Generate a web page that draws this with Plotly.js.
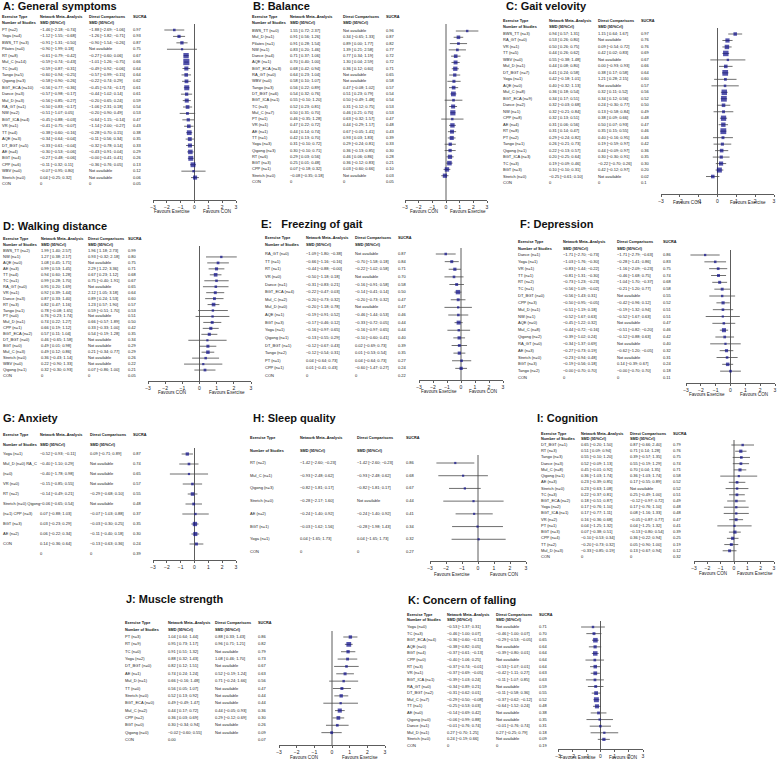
<!DOCTYPE html>
<html><head><meta charset="utf-8">
<script src="https://cdn.plot.ly/plotly-3.0.1.min.js"></script>
<style>html,body{margin:0;padding:0;background:#fff;}#chart{width:777px;height:759px;}</style>
</head><body><div id="chart"></div>
<script>
// ---------- DATA ----------
const A_type=['PT (n=2)','Yoga (n=4)','BWS_TT (n=3)','Pilates (n=0)','RT (n=8)','Mul_C (n=14)','TC (n=6)','Tango (n=5)','Qigong (n=3)','BGT_ECA (n=10)','Dance (n=3)','Mul_D (n=3)','RA_GT (n=1)','NW (n=2)','BGT_ICA (n=4)','VR (n=1)','TT (n=4)','AQE (n=3)','DT_BGT (n=5)','AE (n=4)','BGT (n=4)','CPP (n=6)','WBV (n=0)','Stretch (n=0)','CON'];
const A_est=[-1.46,-1.12,-0.91,-0.90,-0.61,-0.59,-0.59,-0.60,-0.58,-0.56,-0.57,-0.56,-0.50,-0.51,-0.45,-0.41,-0.38,-0.34,-0.33,-0.30,-0.27,-0.11,-0.07,0.04,0];
const A_lo=[-2.18,-1.55,-1.31,-1.99,-0.79,-0.74,-0.87,-0.94,-0.90,-0.77,-0.98,-0.85,-0.83,-1.07,-0.88,-0.75,-0.60,-0.64,-0.61,-0.53,-0.48,-0.32,-0.95,-0.25,null];
const A_hi=[-0.74,-0.68,-0.50,0.18,-0.42,-0.43,-0.31,-0.25,-0.26,-0.36,-0.17,-0.27,-0.17,0.05,-0.03,-0.07,-0.16,-0.04,-0.04,-0.06,-0.06,0.11,0.80,0.32,null];
const A_dEst=[-1.88,-1.26,-0.90,null,-0.27,-1.01,-0.49,-0.57,-0.22,-0.45,-0.44,-0.20,-1.06,-0.20,-0.64,-1.14,-0.28,-0.11,-0.32,-0.43,-0,-0.36,null,null,0];
const A_dLo=[-2.69,-1.82,-1.54,null,-0.60,-1.26,-0.92,-0.99,-0.74,-0.74,-1.02,-0.65,-2.31,-0.90,-1.15,-2.00,-0.70,-0.56,-0.78,-0.91,-0.41,-0.76,null,null,null];
const A_dHi=[-1.06,-0.71,-0.26,null,0.06,-0.75,-0.06,-0.15,0.29,-0.17,0.14,0.24,0.18,0.49,-0.14,-0.27,0.15,0.34,0.14,0.04,0.41,0.05,null,null,null];
const A_sucra=['0.97','0.93','0.87','0.75','0.67','0.66','0.64','0.64','0.62','0.61','0.61','0.59','0.54','0.53','0.47','0.43','0.38','0.35','0.33','0.29','0.26','0.13','0.12','0.06','0.05'];

const B_type=['BWS_TT (n=0)','Mul_D (n=1)','Pilates (n=1)','NW (n=1)','Dance (n=4)','AQE (n=1)','BGT_ECA (n=3)','RA_GT (n=0)','WBV (n=0)','Tango (n=3)','DT_BGT (n=6)','BGT_ICA (n=1)','TC (n=3)','Mul_C (n=7)','PT (n=1)','VR (n=1)','AE (n=1)','TT (n=1)','Yoga (n=3)','Qigong (n=3)','RT (n=6)','BGT (n=3)','CPP (n=1)','Stretch (n=0)','CON'];
const B_est=[1.55,0.91,0.91,0.83,0.71,0.70,0.68,0.64,0.58,0.56,0.54,0.55,0.52,0.50,0.46,0.47,0.44,0.42,0.31,0.30,0.29,0.25,0.07,-0.08,0];
const B_lo=[0.72,0.56,0.28,0.20,0.37,0.40,0.42,0.23,0.10,0.22,0.32,-0.10,0.23,0.31,-0.35,0.22,0.14,0.13,-0.10,-0.10,0.03,0.01,-0.18,-0.35,null];
const B_hi=[2.37,1.26,1.54,1.46,1.06,1.00,0.94,1.04,1.07,0.89,0.76,1.20,0.81,0.70,1.28,0.72,0.74,0.70,0.72,0.71,0.56,0.48,0.32,0.18,null];
const B_dEst=[null,0.34,0.89,1.39,0.77,1.30,0.36,null,null,0.47,0.51,0.50,0.31,0.46,0.63,0.44,0.67,0.93,0.29,0.36,0.46,0.36,0.03,null,0];
const B_dLo=[null,-0.65,0.00,0.21,0.34,0.04,0.12,null,null,-0.08,0.23,-0.49,-0.12,0.21,-0.32,-0.29,-0.05,0.03,-0.24,-0.13,0.06,-0.12,-0.60,null,null];
const B_dHi=[null,1.33,1.77,2.58,1.19,2.59,0.60,null,null,1.02,0.79,1.48,0.75,0.70,1.57,1.17,1.41,1.83,0.81,0.85,0.86,0.83,0.66,null,null];
const B_sucra=['0.96','0.87','0.82','0.77','0.72','0.72','0.71','0.65','0.58','0.57','0.54','0.54','0.53','0.53','0.47','0.48','0.43','0.39','0.33','0.30','0.28','0.21','0.10','0.03','0.05'];

const C_type=['BWS_TT (n=3)','RA_GT (n=0)','VR (n=1)','TT (n=5)','WBV (n=0)','Mul_D (n=1)','DT_BGT (n=7)','Yoga (n=1)','AQE (n=0)','Mul_C (n=8)','BGT_ECA (n=9)','Dance (n=2)','NW (n=1)','CPP (n=8)','AE (n=4)','RT (n=8)','PT (n=2)','Tango (n=1)','Qigong (n=1)','BGT_ICA (n=3)','TC (n=3)','BGT (n=3)','Stretch (n=0)','CON'];
const C_est=[0.94,0.53,0.50,0.44,0.55,0.44,0.41,0.42,0.40,0.36,0.34,0.32,0.32,0.32,0.31,0.31,0.29,0.26,0.22,0.20,0.19,0.10,-0.25,0];
const C_lo=[0.57,0.26,0.26,0.26,-0.38,0.08,0.24,-0.18,-0.32,0.18,0.17,-0.03,-0.21,0.13,0.06,0.14,-0.24,-0.21,-0.13,-0.25,-0.09,-0.10,-0.61,null];
const C_hi=[1.31,0.80,0.75,0.62,1.48,0.80,0.58,1.01,1.13,0.54,0.51,0.68,0.84,0.51,0.56,0.47,0.82,0.73,0.57,0.64,0.46,0.31,0.10,null];
const C_dEst=[1.15,null,0.09,0.42,null,0.00,0.38,1.21,null,0.32,0.34,0.24,0.13,0.38,0.50,0.35,0.40,0.19,0.44,0.30,-0.22,0.42,null,0];
const C_dLo=[0.64,null,-0.54,0.02,null,-0.93,0.17,0.28,null,0.11,0.12,-0.30,-0.58,0.09,0.07,0.15,-0.16,-0.59,-0.09,-0.30,-0.70,-0.12,null,null];
const C_dHi=[1.67,null,0.72,0.83,null,0.93,0.58,2.15,null,0.52,0.56,0.77,0.84,0.66,0.93,0.55,0.95,0.97,0.97,0.91,0.26,0.97,null,null];
const C_sucra=['0.97','0.76','0.76','0.69','0.67','0.66','0.64','0.60','0.57','0.56','0.52','0.50','0.49','0.48','0.47','0.46','0.46','0.42','0.36','0.35','0.30','0.20','0.02','0.1'];

const D_type=['BWS_TT (n=2)','NW (n=1)','AQE (n=0)','AE (n=3)','TT (n=4)','TC (n=1)','RA_GT (n=0)','VR (n=1)','Dance (n=3)','RT (n=3)','Tango (n=1)','PT (n=0)','Mul_D (n=1)','CPP (n=1)','BGT_ECA (n=2)','DT_BGT (n=0)','BGT (n=0)','Mul_C (n=3)','Stretch (n=0)','WBV (n=0)','Qigong (n=1)','CON'];
const D_est=[1.99,1.27,1.08,0.99,0.94,0.99,0.95,0.92,0.87,0.82,0.78,0.76,0.74,0.66,0.57,0.46,0.49,0.49,0.36,0.22,0.32,0];
const D_lo=[1.40,0.38,0.45,0.53,0.60,0.28,0.20,0.39,0.33,0.47,-0.08,-0.23,0.22,0.19,0.11,-0.65,0.01,0.12,-0.43,-0.90,-0.30,null];
const D_hi=[2.57,2.17,1.71,1.45,1.28,1.70,1.69,1.44,1.40,1.16,1.65,1.74,1.27,1.12,1.04,1.58,0.98,0.86,1.14,1.33,0.93,null];
const D_dEst=[1.96,0.93,null,2.29,0.67,0.75,null,2.12,0.89,1.23,0.59,null,0.66,0.33,0.54,null,null,0.21,null,null,0.07,0];
const D_dLo=[1.18,-0.32,null,1.22,0.23,-0.40,null,1.05,0.24,0.57,-0.51,null,-0.57,-0.33,-0.19,null,null,-0.34,null,null,-0.86,null];
const D_dHi=[2.73,2.18,null,3.36,1.12,1.91,null,3.18,1.53,1.90,1.70,null,1.89,1.00,1.28,null,null,0.77,null,null,1.00,null];
const D_sucra=['0.99','0.80','0.75','0.71','0.68','0.67','0.65','0.64','0.60','0.57','0.53','0.51','0.50','0.42','0.35','0.34','0.29','0.29','0.26','0.22','0.21','0.05'];

const E_type=['RA_GT (n=0)','TT (n=1)','RT (n=1)','VR (n=0)','Dance (n=1)','BGT_ECA (n=4)','Mul_C (n=2)','Mul_D (n=0)','AQE (n=1)','BGT (n=3)','Yoga (n=1)','Qigong (n=1)','DT_BGT (n=1)','Tango (n=2)','PT (n=1)','CPP (n=1)','CON'];
const E_est=[-1.09,-0.66,-0.44,-0.50,-0.31,-0.22,-0.20,-0.20,-0.19,-0.17,-0.16,-0.13,-0.12,-0.12,0.04,0.01,0];
const E_lo=[-1.80,-1.16,-0.88,-1.18,-0.83,-0.47,-0.73,-1.18,-0.91,-0.46,-0.97,-0.55,-0.67,-0.54,-0.64,-0.41,null];
const E_hi=[-0.38,-0.16,-0,0.18,0.21,0.03,0.32,0.78,0.52,0.12,0.65,0.29,0.43,0.31,0.73,0.43,null];
const E_dEst=[null,-0.70,-0.22,null,-0.16,-0.14,-0.20,null,-0.46,-0.33,-0.16,-0.10,0.02,0.01,0.04,-0.60,0];
const E_dLo=[null,-1.58,-1.02,null,-0.91,-0.41,-0.73,null,-1.44,-0.72,-0.97,-0.60,-0.69,-0.53,-0.64,-1.47,null];
const E_dHi=[null,0.18,0.58,null,0.58,0.14,0.32,null,0.53,0.05,0.65,0.41,0.73,0.54,0.73,0.27,null];
const E_sucra=['0.87','0.84','0.71','0.70','0.58','0.50','0.47','0.47','0.46','0.44','0.44','0.40','0.39','0.35','0.27','0.24','0.22'];

const F_type=['Dance (n=1)','Yoga (n=1)','VR (n=1)','TT (n=1)','RT (n=2)','TC (n=1)','DT_BGT (n=0)','CPP (n=3)','Mul_D (n=1)','NW (n=1)','AQE (n=0)','Mul_C (n=8)','Qigong (n=2)','RA_GT (n=0)','AE (n=3)','Stretch (n=0)','BGT (n=3)','Tango (n=2)','CON'];
const F_est=[-1.71,-1.03,-0.83,-0.81,-0.73,-0.56,-0.56,-0.50,-0.51,-0.52,-0.45,-0.44,-0.39,-0.34,-0.27,-0.23,-0.19,-0,0];
const F_lo=[-2.70,-1.76,-1.44,-1.31,-1.23,-1.09,-1.43,-0.95,-1.19,-1.67,-1.22,-0.72,-1.02,-1.37,-0.73,-0.94,-0.56,-0.70,null];
const F_hi=[-0.73,-0.30,-0.22,-0.30,-0.23,-0.02,0.31,-0.05,0.18,0.63,0.32,-0.16,0.24,0.69,0.19,0.48,0.18,0.70,null];
const F_dEst=[-1.71,-0.28,-1.16,-0.46,-1.04,-0.21,null,-0.42,-0.19,-0.52,null,-0.51,-0.12,null,-0.62,null,0.14,-0,0];
const F_dLo=[-2.79,-1.41,-2.09,-1.68,-1.70,-1.20,null,-0.96,-1.32,-1.67,null,-0.82,-0.88,null,-1.20,null,-0.39,-0.70,null];
const F_dHi=[-0.63,0.86,-0.23,0.75,-0.37,0.77,null,0.12,0.94,0.63,null,-0.20,0.63,null,-0.05,null,0.67,0.70,null];
const F_sucra=['0.86','0.83','0.75','0.74','0.68','0.58','0.55','0.52','0.51','0.51','0.47','0.46','0.42','0.40','0.32','0.31','0.24','0.18','0.11'];

const G_type=['Yoga (n=1)','Mul_D (n=0) RA_C','(n=0)','VR (n=0)','RT (n=2)','Stretch (n=0) Qigong','(n=1) CPP (n=3)','BGT (n=3)','AE (n=2)','CON',''];
const G_est=[-0.52,-0.40,-0.40,-0.15,-0.14,-0.06,0.07,0.03,0.06,0.14,0];
const G_lo=[-0.93,-1.10,-1.78,-0.85,-0.49,-0.65,-0.88,-0.23,-0.22,-0.36,null];
const G_hi=[-0.11,0.29,0.98,0.55,0.21,0.54,1.03,0.29,0.34,0.64,null];
const G_dEst=[0.09,null,null,null,-0.29,null,-0.07,-0.03,-0.11,-0.13,0];
const G_dLo=[-0.71,null,null,null,-0.68,null,-1.03,-0.30,-0.40,-0.63,null];
const G_dHi=[0.89,null,null,null,0.10,null,0.88,0.25,0.18,0.36,null];
const G_sucra=['0.87','0.74','0.65','0.57','0.55','0.48','0.37','0.35','0.30','0.24','0.39'];

const H_type=['RT (n=2)','Mul_C (n=1)','Qigong (n=3)','Stretch (n=0)','AE (n=2)','BGT (n=1)','Yoga (n=1)','CON'];
const H_est=[-1.42,-0.93,-0.82,-0.28,-0.24,-0.03,0.04,0];
const H_lo=[-2.60,-2.48,-1.81,-2.17,-1.40,-1.62,-1.65,null];
const H_hi=[-0.23,0.62,0.17,1.60,0.92,1.56,1.73,null];
const H_dEst=[-1.42,-0.93,-0.82,null,-0.24,-0.28,0.04,0];
const H_dLo=[-2.60,-2.48,-1.81,null,-1.40,-1.98,-1.65,null];
const H_dHi=[-0.23,0.62,0.17,null,0.92,1.43,1.73,null];
const H_sucra=['0.86','0.68','0.67','0.44','0.41','0.34','0.32','0.27'];

const I_type=['DT_BGT (n=1)','RT (n=3)','Tango (n=3)','Dance (n=3)','Mul_C (n=8)','Qigong (n=1)','AE (n=3)','Stretch (n=0)','TC (n=3)','BGT_ECA (n=2)','Yoga (n=2)','BGT_ICA (n=1)','VR (n=2)','PT (n=1)','BGT (n=3)','CPP (n=4)','TT (n=2)','Mul_D (n=3)','CON'];
const I_est=[0.65,0.51,0.55,0.52,0.45,0.36,0.23,0.23,0.22,0.18,0.17,0.17,0.16,0.04,0.07,-0.10,-0.20,-0.33,0];
const I_lo=[-0.20,0.09,-0.10,-0.09,-0.01,-1.03,-0.39,-0.63,-0.37,-0.51,-0.76,-0.77,-0.36,-1.25,-0.38,-0.53,-0.73,-0.85,null];
const I_hi=[1.50,0.94,1.20,1.13,0.92,1.74,0.85,1.08,0.81,0.87,1.10,1.11,0.68,1.32,0.51,0.34,0.32,0.19,null];
const I_dEst=[0.87,0.71,0.39,0.55,0.70,0.36,0.17,null,0.25,-0.12,0.17,0.08,-0.05,0.04,-0.13,0.36,0.05,0.13,0];
const I_dLo=[-0.66,0.14,-0.57,-0.19,0.04,-1.03,-0.55,null,-0.49,-0.97,-0.76,-1.16,-0.87,-1.25,-0.80,-0.22,-0.90,-0.67,null];
const I_dHi=[2.40,1.28,1.35,1.29,1.35,1.74,0.89,null,1.00,0.72,1.10,1.33,0.77,1.32,0.54,0.94,1.00,0.94,null];
const I_sucra=['0.79','0.76','0.75','0.74','0.71','0.58','0.52','0.52','0.51','0.49','0.48','0.48','0.47','0.41','0.39','0.25','0.19','0.12','0.32'];

const J_type=['PT (n=3)','RT (n=9)','TC (n=0)','Yoga (n=2)','DT_BGT (n=0)','AE (n=1)','Mul_D (n=1)','TT (n=0)','Stretch (n=0)','BGT_ECA (n=0)','Mul_C (n=2)','CPP (n=2)','BGT (n=0)','Qigong (n=0)','CON'];
const J_est=[1.04,0.95,0.91,0.88,0.82,0.74,0.66,0.56,0.52,0.49,0.44,0.36,0.30,-0.02,0];
const J_lo=[0.64,0.73,0.51,0.32,0.12,0.24,-0.16,0.05,0.13,-0.49,0.17,0.03,-0.34,-0.60,null];
const J_hi=[1.44,1.17,1.32,1.43,1.51,1.24,1.48,1.07,0.92,1.47,0.72,0.69,0.94,0.55,null];
const J_dEst=[0.88,0.96,null,1.08,null,0.52,0.71,null,null,null,0.44,0.29,null,null,0];
const J_dLo=[0.33,0.71,null,0.46,null,-0.19,-0.24,null,null,null,-0.05,-0.12,null,null,null];
const J_dHi=[1.43,1.21,null,1.70,null,1.24,1.66,null,null,null,0.93,0.69,null,null,null];
const J_sucra=['0.86','0.82','0.79','0.73','0.67','0.63','0.56','0.47','0.44','0.44','0.36','0.30','0.26','0.09','0.07'];

const K_type=['Yoga (n=0)','TC (n=3)','BGT_ECA (n=4)','AQE (n=0)','BGT (n=4)','CPP (n=0)','RT (n=3)','VR (n=1)','BGT_ICA (n=1)','RA_GT (n=0)','DT_BGT (n=2)','Mul_C (n=7)','TT (n=1)','AE (n=0)','Qigong (n=0)','Dance (n=1)','Mul_D (n=1)','Stretch (n=0)','CON'];
const K_est=[-0.53,-0.46,-0.36,-0.38,-0.37,-0.40,-0.37,-0.37,-0.39,-0.34,-0.31,-0.29,-0.25,-0.14,-0.06,-0.01,0.27,0.24,0];
const K_lo=[-1.37,-1.00,-0.60,-0.82,-0.61,-1.06,-0.74,-0.69,-1.03,-0.89,-0.62,-0.50,-0.53,-0.69,-0.99,-0.76,-0.70,-0.19,null];
const K_hi=[0.31,0.07,-0.13,0.05,-0.13,0.25,-0.01,-0.05,0.24,0.21,0.01,-0.08,0.03,0.42,0.88,0.74,1.25,0.66,null];
const K_dEst=[null,-0.46,-0.29,null,-0.39,null,-0.53,-0.42,-0.11,null,-0.11,-0.37,-0.64,null,null,-0.01,0.27,null,0];
const K_dLo=[null,-1.00,-0.53,null,-0.80,null,-1.07,-1.11,-1.07,null,-0.58,-0.62,-1.52,null,null,-0.76,-0.25,null,null];
const K_dHi=[null,0.07,-0.05,null,0.01,null,0.01,0.27,0.85,null,0.36,-0.12,0.24,null,null,0.74,0.79,null,null];
const K_sucra=['0.71','0.70','0.65','0.64','0.64','0.64','0.64','0.63','0.63','0.59','0.55','0.52','0.48','0.38','0.35','0.31','0.18','0.09','0.19'];

const TITLES={A:'A: General symptoms',B:'B: Balance',C:'C: Gait velovity',D:'D: Walking distance',E:'E:\u00a0\u00a0 Freezing of gait',F:'F: Depression',G:'G: Anxiety',H:'H: Sleep quality',I:'I: Cognition',J:'J: Muscle strength',K:'K: Concern of falling'};
const FAV_EX_LEFT=['Favours Exercise','Favours CON'];
const FAV_CON_LEFT=['Favours CON','Favours Exercise'];
const AXIS_TICKS=[-3,-2,-1,0,1,2,3];

// ---------- LAYOUT (pixel geometry) ----------
const W=777,H=759;
const FONT='Liberation Sans, Arial, Helvetica, sans-serif';
const TXT=4.0, HDR=3.8, TTL=11;
const GEO={
 A:{tx:2,ty:6,h:[17,23],r:[30,184],cols:[2,40,89,133],f:[153,236],ax:200,fav:211,vTop:24,favs:FAV_EX_LEFT,ref:['0','0']},
 B:{tx:252,ty:6,h:[17,23],r:[31,182],cols:[252,290,343,386],f:[405,487],ax:200,fav:211,vTop:24,favs:FAV_CON_LEFT,ref:['0','0']},
 C:{tx:505,ty:6,h:[21,27],r:[34,183],cols:[503,549,598,641],f:[661,774],ax:194,fav:203,vTop:28,favs:FAV_CON_LEFT,ref:['0','0']},
 D:{tx:2,ty:226,h:[239,245],r:[251,376],cols:[3,41,88,128],f:[148,251],ax:381,fav:392,vTop:246,favs:FAV_CON_LEFT,ref:['0','0'],skip:[0]},
 E:{tx:260,ty:224,h:[238,245],r:[254,376],cols:[265,306,355,398],f:[419,503],ax:380,fav:391,vTop:248,favs:FAV_EX_LEFT,ref:['0','0']},
 F:{tx:519,ty:224,h:[242,249],r:[255,378],cols:[518,563,617,663],f:[686,775],ax:383,fav:394,vTop:250,favs:FAV_EX_LEFT,ref:['0','0']},
 G:{tx:2,ty:418,h:[435,445],r:[454,554],cols:[3,40,90,133],f:[153,236],ax:560,fav:null,vTop:448,favs:null,ref:['0','0']},
 H:{tx:252,ty:418,h:[438,451],r:[463,552],cols:[250,300,357,406],f:[430,526],ax:561,fav:574,vTop:455,favs:FAV_EX_LEFT,ref:['0','0']},
 I:{tx:536,ty:418,h:[434,439],r:[445,557],cols:[541,581,630,673],f:[694,774],ax:561,fav:573,vTop:440,favs:FAV_CON_LEFT,ref:['0','0']},
 J:{tx:125,ty:599,h:[623,630],r:[637,740],cols:[125,168,215,258],f:[279,385],ax:745,fav:757,vTop:631,favs:FAV_CON_LEFT,ref:['0.00','']},
 K:{tx:407,ty:600,h:[615,620],r:[627,746],cols:[407,447,496,539],f:[558,643],ax:749,fav:757,vTop:621,favs:FAV_EX_LEFT,ref:['0','0']}
};
const DATA={
 A:[A_type,A_est,A_lo,A_hi,A_dEst,A_dLo,A_dHi,A_sucra],
 B:[B_type,B_est,B_lo,B_hi,B_dEst,B_dLo,B_dHi,B_sucra],
 C:[C_type,C_est,C_lo,C_hi,C_dEst,C_dLo,C_dHi,C_sucra],
 D:[D_type,D_est,D_lo,D_hi,D_dEst,D_dLo,D_dHi,D_sucra],
 E:[E_type,E_est,E_lo,E_hi,E_dEst,E_dLo,E_dHi,E_sucra],
 F:[F_type,F_est,F_lo,F_hi,F_dEst,F_dLo,F_dHi,F_sucra],
 G:[G_type,G_est,G_lo,G_hi,G_dEst,G_dLo,G_dHi,G_sucra],
 H:[H_type,H_est,H_lo,H_hi,H_dEst,H_dLo,H_dHi,H_sucra],
 I:[I_type,I_est,I_lo,I_hi,I_dEst,I_dLo,I_dHi,I_sucra],
 J:[J_type,J_est,J_lo,J_hi,J_dEst,J_dLo,J_dHi,J_sucra],
 K:[K_type,K_est,K_lo,K_hi,K_dEst,K_dLo,K_dHi,K_sucra]
};

function num(v){const neg=v<0||Object.is(v,-0);return (neg?'\u2212':'')+Math.abs(v).toFixed(2);}
function ciText(e,l,h){return num(e)+' ['+(l<0||Object.is(l,-0)?'':' ')+num(l)+'; '+num(h)+']';}

const traces=[],annotations=[],shapes=[];
const layout={width:W,height:H,margin:{l:0,r:0,t:0,b:0},paper_bgcolor:'#fff',plot_bgcolor:'rgba(0,0,0,0)',showlegend:false,font:{family:FONT,color:'#111'},hovermode:false};
const axName=(p,n)=>p+'axis'+(n===1?'':n);
const refName=(p,n)=>p+(n===1?'':n);

Object.keys(GEO).forEach((key,k)=>{
  const g=GEO[key];
  const [type,est,lo,hi,dEst,dLo,dHi,sucra]=DATA[key];
  const N=type.length;
  const step=(g.r[1]-g.r[0])/(N-1);
  const idx=p=>(p-g.r[0])/step;
  const top=g.h[0]-6;
  const yN=k+1, fxN=2*k+1, txN=2*k+2;
  const yRef=refName('y',yN), fxRef=refName('x',fxN), txRef=refName('x',txN);
  layout[axName('y',yN)]={domain:[1-g.ax/H,1-top/H],range:[idx(g.ax),idx(top)],visible:false,fixedrange:true};
  layout[axName('x',txN)]={domain:[0,1],range:[0,W],anchor:yRef,visible:false,fixedrange:true};
  layout[axName('x',fxN)]={domain:[g.f[0]/W,g.f[1]/W],range:[-3,3],anchor:yRef,showline:true,linecolor:'#333',linewidth:0.8,
    ticks:'outside',ticklen:2.5,tickwidth:0.8,tickcolor:'#333',tickvals:AXIS_TICKS,
    ticktext:AXIS_TICKS.map(v=>(v<0?'\u2212':'')+Math.abs(v)),tickfont:{size:5,family:FONT,color:'#222'},
    showgrid:false,zeroline:false,fixedrange:true};

  // table text
  const xs=[],ys=[],ts=[];
  const push=(x,y,t)=>{xs.push(x);ys.push(y);ts.push(t);};
  const h1=idx(g.h[0]),h2=idx(g.h[1]);
  push(g.cols[0],h1,'<b>Exercise Type</b>');push(g.cols[1],h1,'<b>Network Meta\u2013Analysis</b>');
  push(g.cols[2],h1,'<b>Direct Comparisons</b>');push(g.cols[3],h1,'<b>SUCRA</b>');
  push(g.cols[0],h2,'<b>Number of Studies</b>');push(g.cols[1],h2,'<b>SMD (95%CrI)</b>');push(g.cols[2],h2,'<b>SMD (95%CrI)</b>');
  const nh=xs.length;
  for(let i=0;i<N;i++){
    push(g.cols[0],i,type[i]);
    push(g.cols[1],i,lo[i]===null?g.ref[0]:ciText(est[i],lo[i],hi[i]));
    push(g.cols[2],i,dEst[i]===null?'Not available':(dLo[i]===null?g.ref[1]:ciText(dEst[i],dLo[i],dHi[i])));
    push(g.cols[3],i,sucra[i]);
  }
  traces.push({type:'scatter',mode:'text',x:xs.slice(0,nh),y:ys.slice(0,nh),text:ts.slice(0,nh),xaxis:txRef,yaxis:yRef,textposition:'middle right',
    textfont:{size:HDR,family:FONT,color:'#111'},cliponaxis:false,hoverinfo:'skip'});
  traces.push({type:'scatter',mode:'text',x:xs.slice(nh),y:ys.slice(nh),text:ts.slice(nh),xaxis:txRef,yaxis:yRef,textposition:'middle right',
    textfont:{size:TXT,family:FONT,color:'#1a1a1a'},cliponaxis:false,hoverinfo:'skip'});

  // forest
  const fx=[],fy=[],ep=[],em=[],sz=[];
  for(let i=0;i<N;i++){
    if(lo[i]===null||(g.skip&&g.skip.includes(i)))continue;
    fx.push(est[i]);fy.push(i);ep.push(hi[i]-est[i]);em.push(est[i]-lo[i]);
    sz.push(Math.max(2.2,Math.min(6.5,1.6+1.4/(hi[i]-lo[i]))));
  }
  traces.push({type:'scatter',mode:'markers',x:fx,y:fy,xaxis:fxRef,yaxis:yRef,cliponaxis:false,
    marker:{symbol:'square',size:sz,color:'#0b0b8a',line:{width:0}},
    error_x:{type:'data',symmetric:false,array:ep,arrayminus:em,width:0,thickness:0.8,color:'#4a4a4a'},hoverinfo:'skip'});

  shapes.push({type:'line',xref:fxRef,yref:yRef,x0:0,x1:0,y0:idx(g.vTop),y1:idx(g.ax),line:{color:'#333',width:0.8},layer:'below'});

  annotations.push({xref:'paper',yref:'paper',x:g.tx/W,y:1-g.ty/H,xanchor:'left',yanchor:'middle',showarrow:false,
    text:'<b>'+TITLES[key]+'</b>',font:{size:TTL,family:FONT,color:'#111'},borderpad:0});
  if(g.favs){
    annotations.push({xref:fxRef,yref:'paper',x:-1.6,y:1-g.fav/H,xanchor:'center',yanchor:'middle',showarrow:false,text:g.favs[0],font:{size:4.6,family:FONT,color:'#222'},borderpad:0});
    annotations.push({xref:fxRef,yref:'paper',x:1.6,y:1-g.fav/H,xanchor:'center',yanchor:'middle',showarrow:false,text:g.favs[1],font:{size:4.6,family:FONT,color:'#222'},borderpad:0});
  }
});
layout.annotations=annotations;layout.shapes=shapes;
Plotly.newPlot('chart',traces,layout,{staticPlot:true,displayModeBar:false});
</script></body></html>
